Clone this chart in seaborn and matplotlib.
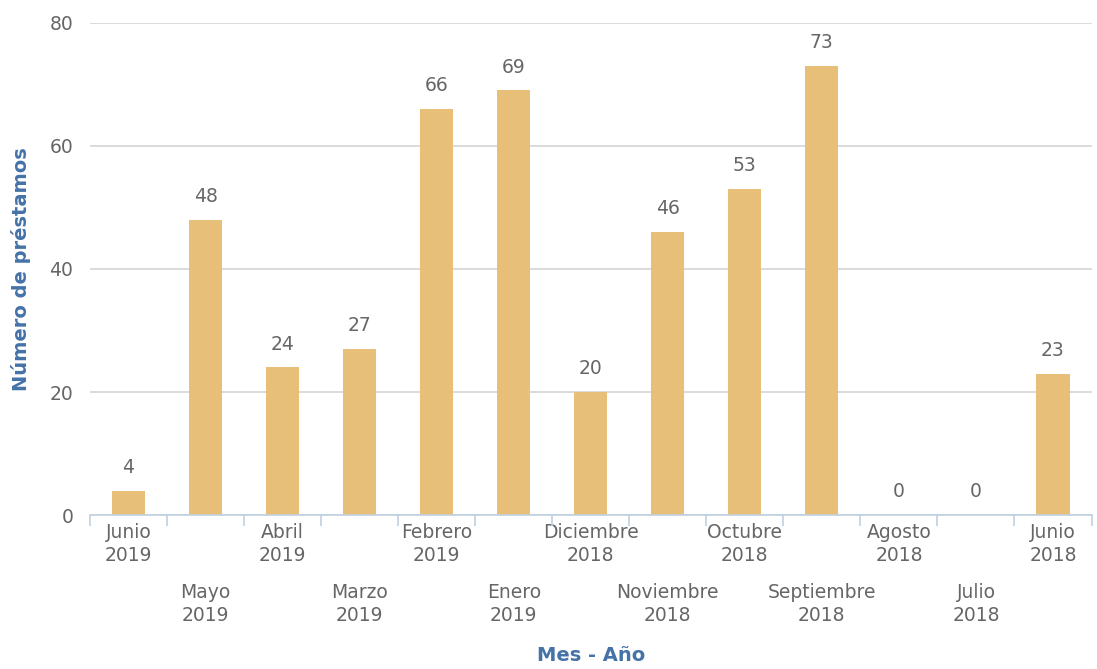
#!/usr/bin/env python3
import matplotlib
matplotlib.use('Agg')
import matplotlib.pyplot as plt
import numpy as np
import pandas as pd
import seaborn as sns

meses = ['Junio', 'Mayo', 'Abril', 'Marzo', 'Febrero', 'Enero', 'Diciembre',
         'Noviembre', 'Octubre', 'Septiembre', 'Agosto', 'Julio', 'Junio']
anios = ['2019', '2019', '2019', '2019', '2019', '2019', '2018',
         '2018', '2018', '2018', '2018', '2018', '2018']
prestamos = [4, 48, 24, 27, 66, 69, 20, 46, 53, 73, 0, 0, 23]

etiquetas = [f"{m}\n{a}" for m, a in zip(meses, anios)]
df = pd.DataFrame({'mes': range(len(etiquetas)), 'n': prestamos})

sns.set_style('white')
plt.rcParams['font.family'] = ['DejaVu Sans']

BAR = '#E8BF78'
GRIS = '#666666'
AZUL = '#4572A7'
EJE = '#C0D0E0'

fig = plt.figure(figsize=(10.97, 6.69), dpi=100)
ax = fig.add_axes([0.082, 0.23, 0.913, 0.736])

sns.barplot(data=df, x='mes', y='n', color=BAR, width=0.43,
            saturation=1, ax=ax, linewidth=0)

ax.set_ylim(0, 80)
ax.set_xlim(-0.5, len(prestamos) - 0.5)
ax.set_yticks([0, 20, 40, 60, 80])
ax.yaxis.grid(True, color='#D4D4D4', linewidth=1.2)
ax.set_axisbelow(True)

for s in ['top', 'right', 'left']:
    ax.spines[s].set_visible(False)
ax.spines['bottom'].set_color(EJE)
ax.spines['bottom'].set_linewidth(1.2)

# etiquetas del eje x en dos filas alternas
ax.set_xticks(range(len(etiquetas)))
ax.set_xticklabels(etiquetas, color=GRIS, fontsize=13.5, linespacing=1.25)
ax.tick_params(axis='x', which='major', length=0)
for i, t in enumerate(ax.xaxis.get_major_ticks()):
    t.set_pad(6 if i % 2 == 0 else 49)

# marcas entre categorias
ax.set_xticks(np.arange(-0.5, len(prestamos)), minor=True)
ax.tick_params(axis='x', which='minor', length=8, color=EJE, width=1.2,
               direction='out', bottom=True)

ax.tick_params(axis='y', length=0, labelsize=13.5, labelcolor=GRIS, pad=12)

ax.bar_label(ax.containers[0], labels=[str(v) for v in prestamos],
             padding=10, color=GRIS, fontsize=13.5)

ax.set_xlabel('Mes - Año', color=AZUL, fontweight='bold', fontsize=14,
              labelpad=15)
ax.set_ylabel('Número de préstamos', color=AZUL, fontweight='bold',
              fontsize=14, labelpad=13)

fig.savefig('out.png', dpi=100)
